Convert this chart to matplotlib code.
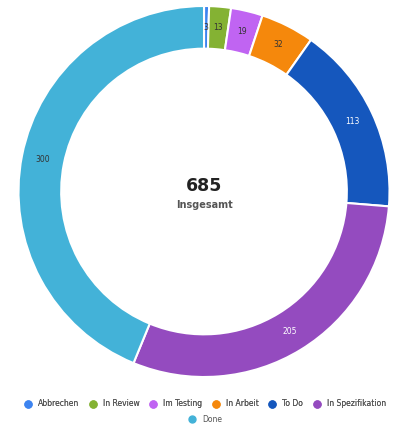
import matplotlib.pyplot as plt
from matplotlib.lines import Line2D
import numpy as np

labels = ['Abbrechen', 'In Review', 'Im Testing', 'In Arbeit', 'To Do', 'In Spezifikation', 'Done']
values = [3, 13, 19, 32, 113, 205, 300]
colors = ['#3d84f0', '#84b233', '#c064f2', '#f5880c', '#1557bd', '#944bbf', '#43b2d8']
text_colors = ['#333333', '#333333', '#333333', '#333333', 'white', 'white', '#333333']
total = sum(values)

fig = plt.figure(figsize=(4.06, 4.32), dpi=100)
ax = fig.add_axes([0.0456, 0.1273, 0.9138, 0.8588])

wedges, _ = ax.pie(
    values,
    colors=colors,
    startangle=90,
    counterclock=False,
    radius=1.0,
    wedgeprops={'width': 0.23, 'edgecolor': 'white', 'linewidth': 1.5},
)
ax.set_xlim(-1, 1)
ax.set_ylim(-1, 1)

# value labels in the middle of the ring
r_lab = 0.885
for w, v, tc in zip(wedges, values, text_colors):
    ang = np.deg2rad((w.theta1 + w.theta2) / 2)
    ax.text(r_lab * np.cos(ang), r_lab * np.sin(ang), str(v),
            ha='center', va='center', fontsize=5.5, color=tc)

ax.text(0, 0.03, str(total), ha='center', va='center', fontsize=12.5,
        fontweight='bold', color='#222222')
ax.text(0, -0.075, 'Insgesamt', ha='center', va='center', fontsize=7,
        fontweight='bold', color='#555555')

handles = [Line2D([], [], marker='o', linestyle='', markersize=5,
                  markerfacecolor=c, markeredgecolor=c) for c in colors]

leg1 = fig.legend(handles[:6], labels[:6], loc='center', bbox_to_anchor=(0.5, 0.065),
                  ncol=6, frameon=False, fontsize=5.5, handletextpad=0.3,
                  columnspacing=0.8, labelcolor='#555555')
fig.add_artist(leg1)
fig.legend(handles[6:], labels[6:], loc='center', bbox_to_anchor=(0.5, 0.03),
           ncol=1, frameon=False, fontsize=5.5, handletextpad=0.3,
           labelcolor='#555555')

fig.savefig('out.png', dpi=100)
